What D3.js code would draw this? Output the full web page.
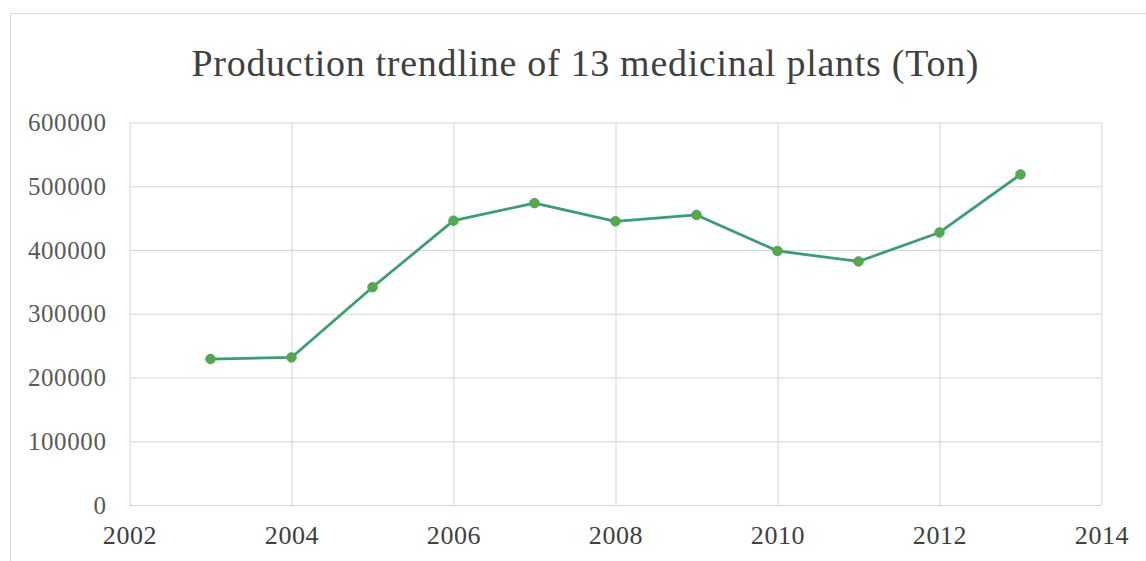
<!DOCTYPE html>
<html>
<head>
<meta charset="utf-8">
<script src="https://cdn.jsdelivr.net/npm/d3@7"></script>
<style>
  html, body { margin: 0; padding: 0; background: #fff; }
  svg { display: block; }
</style>
</head>
<body>
<script>
// Annual production of 13 medicinal plants, in tonnes
const years = [2003, 2004, 2005, 2006, 2007, 2008, 2009, 2010, 2011, 2012, 2013];
const production = [229000, 231500, 341500, 446000, 473500, 445000, 455000, 398500, 382000, 427500, 518500];
const xTicks = [2002, 2004, 2006, 2008, 2010, 2012, 2014];
const yTicks = [0, 100000, 200000, 300000, 400000, 500000, 600000];
const titleText = "Production trendline of 13 medicinal plants (Ton)";

const W = 1146, H = 561;
const plot = { left: 129.5, right: 1101.5, top: 122.5, bottom: 505 };
const serif = "'Liberation Serif', serif";

const svg = d3.select("body").append("svg").attr("width", W).attr("height", H);

// chart frame
svg.append("path")
  .attr("d", `M10.5,${H} V13.5 H${W}`)
  .attr("fill", "none").attr("stroke", "#d9d9d9").attr("stroke-width", 1);

const x = d3.scaleLinear().domain([2002, 2014]).range([plot.left, plot.right]);
const y = d3.scaleLinear().domain([0, 600000]).range([plot.bottom, plot.top]);

// horizontal gridlines
svg.append("g")
  .attr("transform", `translate(${plot.left},0)`)
  .call(d3.axisLeft(y).tickValues(yTicks).tickSize(-(plot.right - plot.left)).tickFormat(""))
  .call(g => g.select(".domain").remove())
  .call(g => g.selectAll("line").attr("stroke", "#d4d4d4").attr("stroke-width", 1));

// vertical gridlines
svg.append("g")
  .attr("transform", `translate(0,${plot.bottom})`)
  .call(d3.axisBottom(x).tickValues(xTicks).tickSize(-(plot.bottom - plot.top)).tickFormat(""))
  .call(g => g.select(".domain").remove())
  .call(g => g.selectAll("line").attr("stroke", "#d4d4d4").attr("stroke-width", 1));

// y tick labels
svg.append("g")
  .attr("transform", `translate(${plot.left},0)`)
  .call(d3.axisLeft(y).tickValues(yTicks).tickSize(0).tickPadding(23).tickFormat(d3.format("d")))
  .call(g => g.select(".domain").remove())
  .call(g => g.selectAll("text")
    .attr("font-family", serif)
    .attr("font-size", 25)
    .attr("letter-spacing", "0.6px")
    .attr("fill", "#595959"));

// x tick labels
svg.append("g")
  .attr("transform", `translate(0,${plot.bottom})`)
  .call(d3.axisBottom(x).tickValues(xTicks).tickSize(0).tickPadding(21).tickFormat(d3.format("d")))
  .call(g => g.select(".domain").remove())
  .call(g => g.selectAll("text")
    .attr("font-family", serif)
    .attr("font-size", 26)
    .attr("letter-spacing", "0.6px")
    .attr("fill", "#404040"));

// title
svg.append("text")
  .attr("x", 585).attr("y", 76)
  .attr("text-anchor", "middle")
  .attr("font-family", serif)
  .attr("font-size", 38)
  .attr("textLength", 787)
  .attr("lengthAdjust", "spacing")
  .attr("fill", "#404040")
  .text(titleText);

const data = years.map((yr, i) => ({ year: yr, value: production[i] }));

// trend line
svg.append("path")
  .datum(data)
  .attr("fill", "none")
  .attr("stroke", "#3a9e6f")
  .attr("stroke-width", 2.75)
  .attr("stroke-linejoin", "round")
  .attr("d", d3.line().x(d => x(d.year)).y(d => y(d.value)));

// markers
svg.append("g").selectAll("circle")
  .data(data)
  .join("circle")
  .attr("cx", d => x(d.year))
  .attr("cy", d => y(d.value))
  .attr("r", 4.75)
  .attr("fill", "#5aa748")
  .attr("stroke", "#46a36e")
  .attr("stroke-width", 1);
</script>
</body>
</html>
